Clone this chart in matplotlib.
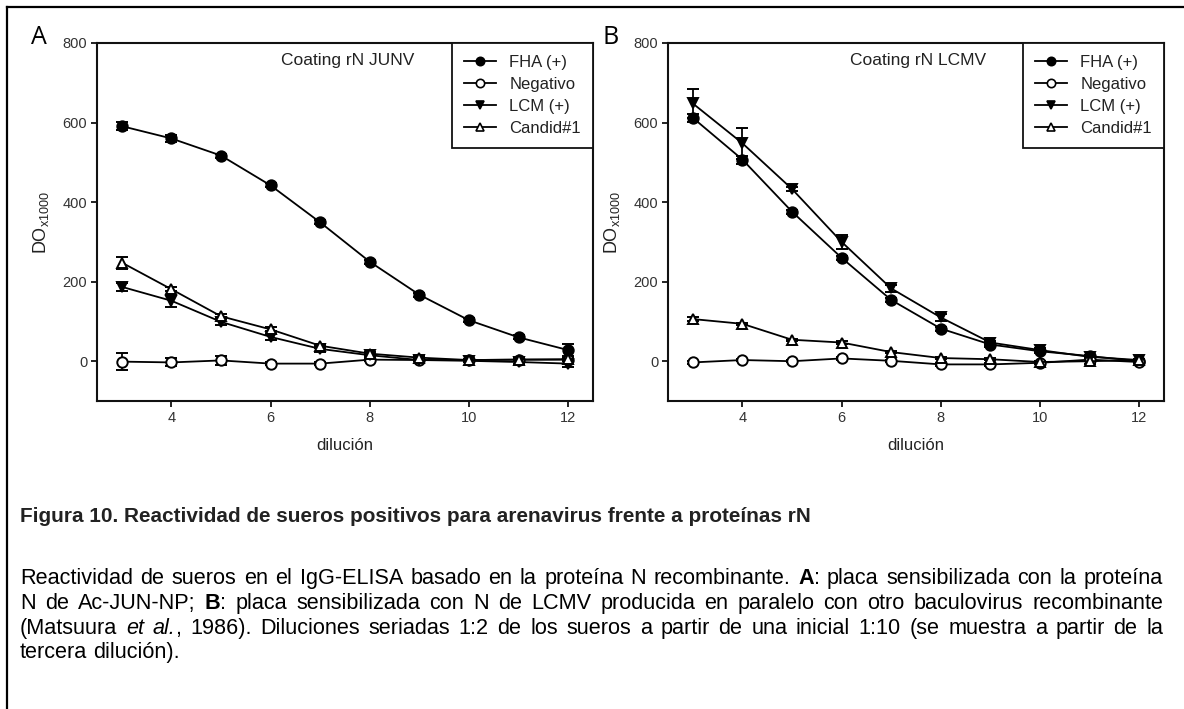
import re
import matplotlib
matplotlib.use("Agg")
import matplotlib.pyplot as plt
from matplotlib.lines import Line2D

plt.rcParams["font.family"] = ["Liberation Sans", "DejaVu Sans"]
plt.rcParams["mathtext.default"] = "regular"

# ---------------- data ----------------
diluciones = [3, 4, 5, 6, 7, 8, 9, 10, 11, 12]
series_names = ["FHA (+)", "Negativo", "LCM (+)", "Candid#1"]

# Coating rN JUNV
junv_fha = [591, 560, 517, 442, 349, 250, 167, 103, 60, 28]
junv_fha_err = [10, 8, 5, 5, 5, 5, 5, 5, 5, 15]
junv_neg = [-1, -3, 2, -6, -6, 4, 3, 3, 4, 4]
junv_neg_err = [22, 10, 12, 3, 3, 3, 3, 3, 3, 3]
junv_lcm = [187, 152, 99, 61, 31, 15, 3, 1, -2, -6]
junv_lcm_err = [10, 15, 8, 8, 8, 3, 3, 3, 5, 8]
junv_cand = [248, 181, 113, 80, 39, 19, 9, 3, 4, 5]
junv_cand_err = [15, 5, 5, 5, 5, 3, 3, 3, 3, 3]

# Coating rN LCMV
lcmv_fha = [612, 507, 376, 260, 154, 82, 42, 25, 13, 0]
lcmv_fha_err = [10, 10, 5, 5, 5, 5, 5, 5, 3, 3]
lcmv_neg = [-3, 3, 0, 7, 1, -8, -8, -4, 4, -2]
lcmv_neg_err = [3, 3, 3, 3, 3, 3, 3, 3, 3, 3]
lcmv_lcm = [648, 548, 433, 300, 183, 110, 47, 28, 11, 3]
lcmv_lcm_err = [36, 39, 5, 17, 8, 8, 5, 5, 3, 3]
lcmv_cand = [106, 94, 54, 47, 23, 8, 5, -2, 0, 3]
lcmv_cand_err = [5, 3, 3, 3, 3, 3, 3, 3, 8, 3]

panel_letters = ["A", "B"]
coating_titles = ["Coating rN JUNV", "Coating rN LCMV"]
x_ticks = [4, 6, 8, 10, 12]
y_ticks = [0, 200, 400, 600, 800]

caption_title = "Figura 10. Reactividad de sueros positivos para arenavirus frente a proteínas rN"
caption_lines = [
    "Reactividad de sueros en el IgG-ELISA basado en la proteína N recombinante. **A**: placa sensibilizada con la proteína",
    "N de Ac-JUN-NP; **B**: placa sensibilizada con N de LCMV producida en paralelo con otro baculovirus recombinante",
    "(Matsuura *et al.*, 1986). Diluciones seriadas 1:2 de los sueros a partir de una inicial 1:10 (se muestra a partir de la",
    "tercera dilución).",
]

# ---------------- figure ----------------
W, H = 1184, 709
fig = plt.figure(figsize=(W / 100, H / 100), dpi=100)
fig.patch.set_facecolor("white")


def px_rect(left, top, right, bottom):
    return [left / W, 1 - bottom / H, (right - left) / W, (bottom - top) / H]


styles = [
    dict(marker="o", mfc="black"),
    dict(marker="o", mfc="white"),
    dict(marker="v", mfc="black"),
    dict(marker="^", mfc="white"),
]

panels = [
    ([junv_fha, junv_neg, junv_lcm, junv_cand],
     [junv_fha_err, junv_neg_err, junv_lcm_err, junv_cand_err],
     px_rect(97, 43, 593, 401)),
    ([lcmv_fha, lcmv_neg, lcmv_lcm, lcmv_cand],
     [lcmv_fha_err, lcmv_neg_err, lcmv_lcm_err, lcmv_cand_err],
     px_rect(668, 43, 1164, 401)),
]

tick_color = "#333333"
for idx, (vals, errs, rect) in enumerate(panels):
    ax = fig.add_axes(rect)
    handles = []
    for name, v, e, st in zip(series_names, vals, errs, styles):
        ax.errorbar(diluciones, v, yerr=e, color="black", lw=1.3,
                    elinewidth=1.3, capsize=4, capthick=1.3,
                    marker=st["marker"], mfc=st["mfc"], mec="black",
                    mew=1.4, ms=7.5)
        handles.append(Line2D([], [], color="black", lw=1.3,
                              marker=st["marker"], mfc=st["mfc"],
                              mec="black", mew=1.2, ms=6, label=name))
    ax.set_xlim(2.5, 12.5)
    ax.set_ylim(-100, 800)
    ax.set_xticks(x_ticks)
    ax.set_yticks(y_ticks)
    for sp in ax.spines.values():
        sp.set_linewidth(1.5)
        sp.set_color("#111111")
    ax.tick_params(direction="out", length=4, width=1.3, color="#111111",
                   labelcolor=tick_color, labelsize=10.5, pad=3)
    ax.set_xlabel("dilución", fontsize=12, color="#222222")
    ax.set_ylabel("DO$_{x1000}$", fontsize=13, color="#222222")
    ax.xaxis.label.set_va("center")
    ax.yaxis.label.set_va("center")
    ax.xaxis.set_label_coords(0.5, -(445 - 401) / 358)
    ax.yaxis.set_label_coords(-(97 - 41) / 496, 0.5)
    ax.text(0.505, 0.95, coating_titles[idx], transform=ax.transAxes,
            ha="center", va="center", fontsize=12.5, color="#222222")
    leg = ax.legend(handles=handles, loc="upper right", bbox_to_anchor=(1, 1),
                    borderaxespad=0, fancybox=False, framealpha=1,
                    edgecolor="#111111", fontsize=12, handlelength=1.9,
                    handletextpad=0.8, labelspacing=0.42, borderpad=0.72)
    leg.get_frame().set_linewidth(1.3)
    for t in leg.get_texts():
        t.set_color("#222222")
    lx = 39 if idx == 0 else 611
    fig.text(lx / W, 1 - 37 / H, panel_letters[idx], ha="center", va="center",
             fontsize=18, family=["Open Sans", "DejaVu Sans"])

# page frame
fig.add_artist(Line2D([7 / W, 7 / W], [0, 1 - 7 / H], color="black", lw=1.6,
                      transform=fig.transFigure))
fig.add_artist(Line2D([7 / W, 1], [1 - 7 / H, 1 - 7 / H], color="black", lw=1.6,
                      transform=fig.transFigure))

# ---------------- caption ----------------
renderer = fig.canvas.get_renderer()


def run_kw(kind):
    return dict(fontweight="bold" if kind == "bold" else "normal",
                fontstyle="italic" if kind == "italic" else "normal")


def text_width(s, size, kind="normal"):
    t = fig.text(0, 0, s, fontsize=size, **run_kw(kind))
    w = t.get_window_extent(renderer).width
    t.remove()
    return w


def parse_words(line):
    words = [[]]
    for seg in re.split(r"(\*\*[^*]+\*\*|\*[^*]+\*)", line):
        if not seg:
            continue
        if seg.startswith("**"):
            txt, kind = seg[2:-2], "bold"
        elif seg.startswith("*"):
            txt, kind = seg[1:-1], "italic"
        else:
            txt, kind = seg, "normal"
        parts = txt.split(" ")
        for i, p in enumerate(parts):
            if i > 0:
                words.append([])
            if p:
                words[-1].append((p, kind))
    return [w for w in words if w]


x0, x1 = 20, 1163
parsed = [parse_words(l) for l in caption_lines]


def natural_width(words, size):
    sp = text_width("a a", size) - text_width("aa", size)
    return sum(sum(text_width(s, size, k) for s, k in w) for w in words) + sp * (len(words) - 1)


widest = max(natural_width(w, 10) for w in parsed[:-1])
body_size = 10 * (x1 - x0) * 0.98 / widest

baselines = [584, 609, 634, 658]
space_w = text_width("a a", body_size) - text_width("aa", body_size)
for li, (words, yb) in enumerate(zip(parsed, baselines)):
    widths = [[text_width(s, body_size, k) for s, k in w] for w in words]
    total = sum(sum(ws) for ws in widths)
    justify = li < len(parsed) - 1
    gap = (x1 - x0 - total) / (len(words) - 1) if justify else space_w
    x = x0
    for w, ws in zip(words, widths):
        for (s, k), wd in zip(w, ws):
            fig.text(x / W, 1 - yb / H, s, ha="left", va="baseline",
                     fontsize=body_size, color="black", **run_kw(k))
            x += wd
        x += gap

title_size = 10 * (812 - 20) / text_width(caption_title, 10, "bold")
fig.text(20 / W, 1 - 522 / H, caption_title, ha="left", va="baseline",
         fontsize=title_size, fontweight="bold", color="#222222")

fig.savefig("out.png", dpi=100, facecolor="white")
